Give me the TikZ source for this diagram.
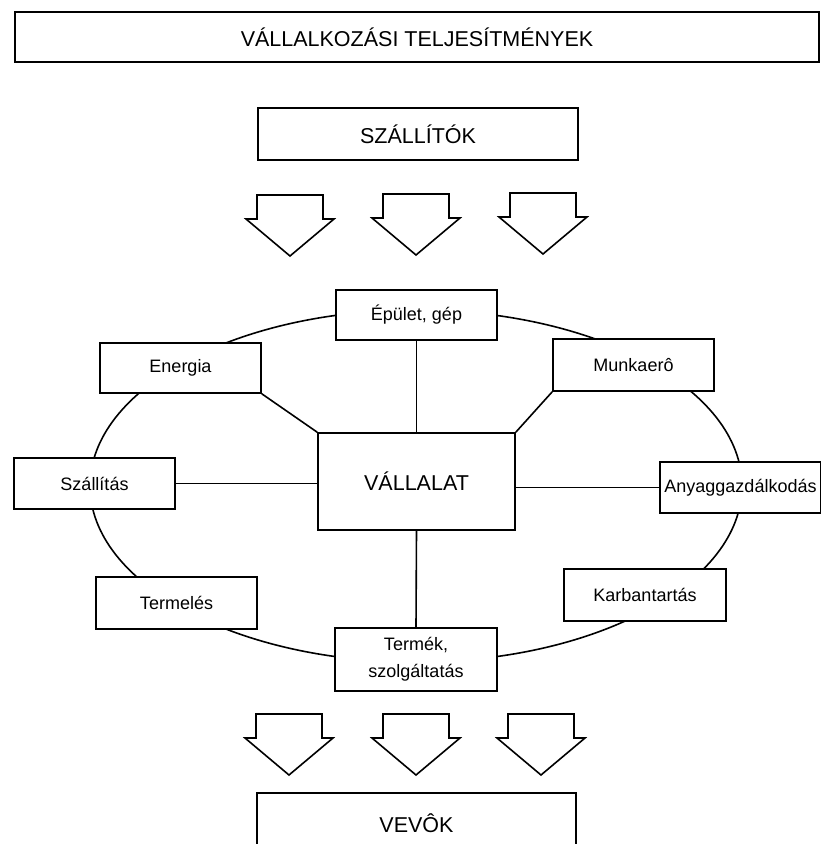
\documentclass[tikz,border=0pt]{standalone}
\usepackage{fontspec}
\setmainfont{Liberation Sans}
\begin{document}
\begin{tikzpicture}[x=1pt,y=-1pt,
  line width=1.6pt,
  box/.style={draw,fill=white,inner sep=0pt,align=center,
    minimum width=#1},
  box/.default=161pt,
  bigtext/.style={font=\fontsize{21.5}{26}\selectfont},
  smalltext/.style={font=\fontsize{18}{27}\selectfont},
  flowarrow/.pic={
    \draw[fill=white,line join=miter]
      (-33,0) -- (33,0) -- (33,24) -- (44,24) -- (0,61)
      -- (-44,24) -- (-33,24) -- cycle;
  }]
\useasboundingbox (0,0) rectangle (820,844);

% ring of company functions
\draw (416,486) ellipse [x radius=326pt, y radius=176pt];

% header boxes
\node[box=804pt,minimum height=50pt,bigtext] (title) at (417,37)
  {VÁLLALKOZÁSI TELJESÍTMÉNYEK};
\node[box=320pt,minimum height=52pt,bigtext] (suppliers) at (418,134)
  {SZÁLLÍTÓK};

% inflow arrows
\pic at (290,195) {flowarrow};
\pic at (416,194) {flowarrow};
\pic at (543,193) {flowarrow};

% central company box
\node[box=197pt,minimum height=97pt,bigtext] (company) at (416.5,481.5)
  {VÁLLALAT};

% functions around the ring
\node[box,minimum height=50pt,smalltext] (building) at (416.5,315) {Épület, gép};
\node[box,minimum height=50pt,smalltext] (energy) at (180.5,368) {Energia};
\node[box,minimum height=52pt,smalltext] (labour) at (633.5,365) {Munkaerô};
\node[box,minimum height=51pt,smalltext] (transport) at (94.5,483.5) {Szállítás};
\node[box,minimum height=51pt,smalltext] (materials) at (740.5,487.5) {Anyaggazdálkodás};
\node[box,minimum height=52pt,smalltext] (production) at (176.5,603) {Termelés};
\node[box=162pt,minimum height=52pt,smalltext] (maintenance) at (645,595) {Karbantartás};
\node[box=162pt,minimum height=63pt,smalltext] (product) at (416,659.5)
  {Termék,\\szolgáltatás};

% spokes
\draw (building.south) -- (company.north);
\draw (energy.south east) -- (company.north west);
\draw (labour.south west) -- (company.north east);
\draw (transport.east) -- (transport.east -| company.west);
\draw (materials.west) -- (materials.west -| company.east);
\draw (company.south) -- (product.north);

% outflow arrows
\pic at (289,714) {flowarrow};
\pic at (416,714) {flowarrow};
\pic at (541,714) {flowarrow};

% customers box
\node[box=319pt,minimum height=60pt,bigtext] (customers) at (416.5,823)
  {VEVÔK};
\end{tikzpicture}
\end{document}
